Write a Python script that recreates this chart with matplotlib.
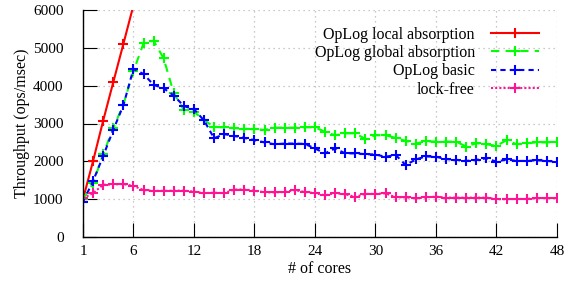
import matplotlib

matplotlib.use("Agg")
import matplotlib.pyplot as plt
import numpy as np

cores = np.arange(1, 49)
local_cores = np.arange(1, 8)
local_absorption = [1000, 2010, 3075, 4090, 5100, 6120, 7150]
global_absorption = [
    1000, 1420, 2190, 2880, 3500, 4380, 5120, 5190, 4720, 3800,
    3360, 3310, 3090, 2910, 2900, 2880, 2860, 2850, 2830, 2890,
    2890, 2890, 2900, 2900, 2780, 2690, 2740, 2740, 2590, 2690,
    2690, 2620, 2540, 2470, 2530, 2520, 2520, 2520, 2390, 2480,
    2450, 2410, 2560, 2450, 2480, 2500, 2500, 2520,
]
basic = [
    930, 1480, 2140, 2830, 3480, 4440, 4310, 4020, 3930, 3740,
    3460, 3380, 3080, 2610, 2720, 2670, 2620, 2560, 2500, 2450,
    2470, 2470, 2460, 2340, 2210, 2340, 2210, 2210, 2190, 2180,
    2120, 2170, 1900, 2050, 2130, 2120, 2060, 2040, 2010, 2040,
    2080, 1990, 2050, 2010, 2010, 2030, 2010, 1990,
]
lock_free = [
    1020, 1160, 1380, 1390, 1400, 1350, 1240, 1220, 1220, 1225,
    1225, 1200, 1160, 1170, 1160, 1255, 1255, 1225, 1180, 1180,
    1190, 1240, 1190, 1160, 1100, 1160, 1130, 1060, 1140, 1140,
    1155, 1050, 1050, 1020, 1050, 1066, 1040, 1040, 1040, 1040,
    1040, 1000, 1000, 1005, 1005, 1030, 1030, 1030,
]
x_ticks = [1, 6, 12, 18, 24, 30, 36, 42, 48]
y_ticks = [0, 1000, 2000, 3000, 4000, 5000, 6000]

plt.rcParams.update({
    "font.family": ["Liberation Serif", "DejaVu Serif"],
    "font.size": 11.5,
    "xtick.labelsize": 11,
    "ytick.labelsize": 11,
    "axes.spines.top": False,
    "axes.spines.right": False,
    "axes.linewidth": 1.0,
    "xtick.direction": "in",
    "ytick.direction": "in",
    "xtick.major.size": 10,
    "ytick.major.size": 10,
    "xtick.major.width": 0.8,
    "ytick.major.width": 0.8,
})

fig = plt.figure(figsize=(5.7, 2.84), dpi=100)
ax = fig.add_axes([83 / 570, 1 - 237 / 284, 474 / 570, 227 / 284])

lw = 1.5
ms = 7.5
mew = 1.5
ax.plot(local_cores, local_absorption, color="#ff0000", lw=lw, marker="+",
        ms=ms, mew=mew, label="OpLog local absorption")
ax.plot(cores, global_absorption, color="#00ff00", lw=lw, marker="+",
        ms=ms, mew=mew, dashes=(4, 3), label="OpLog global absorption")
ax.plot(cores, basic, color="#0000ff", lw=lw, marker="+",
        ms=ms, mew=mew, dashes=(2.5, 2), label="OpLog basic")
ax.plot(cores, lock_free, color="#ff1493", lw=lw, marker="+",
        ms=ms, mew=mew, dashes=(1, 1), label="lock-free")

ax.set_xlim(1, 48)
ax.set_ylim(0, 6000)
ax.set_xticks(x_ticks)
ax.set_yticks(y_ticks)
ax.tick_params(axis="y", pad=14)
ax.tick_params(axis="x", pad=6)
ax.grid(True, color="#b8b8b8", linestyle=(0, (1, 3)), linewidth=0.9)
ax.set_axisbelow(True)
ax.set_xlabel("# of cores", labelpad=2)
ax.set_ylabel("Throughput (ops/msec)", labelpad=2)

ax.legend(loc="upper right", bbox_to_anchor=(0.975, 0.955), frameon=False,
          markerfirst=False, handlelength=3.0, handletextpad=1.0,
          labelspacing=0.15, numpoints=1, fontsize=11.5, borderaxespad=0)

fig.savefig("out.png", dpi=100)
